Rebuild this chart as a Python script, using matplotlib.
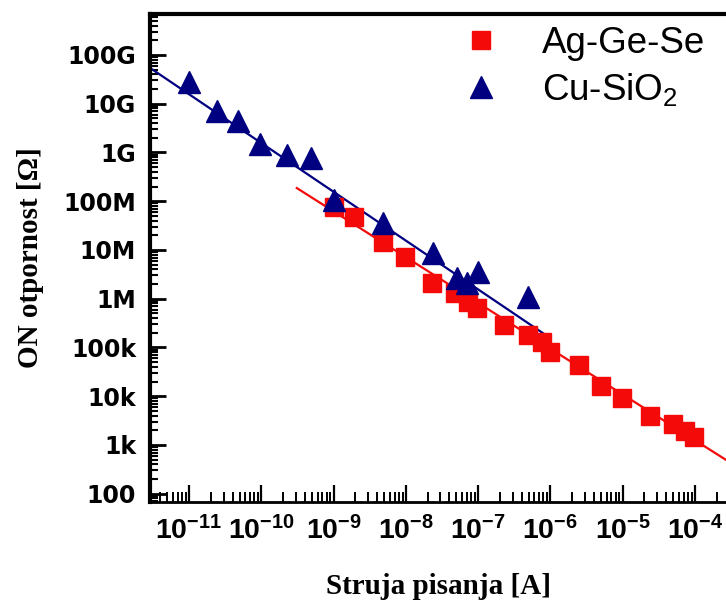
import matplotlib
matplotlib.use('Agg')
import matplotlib.pyplot as plt
import numpy as np
from matplotlib.ticker import LogLocator, NullFormatter, FixedLocator

plt.rcParams['mathtext.fontset'] = 'custom'
plt.rcParams['mathtext.rm'] = 'Liberation Sans'
plt.rcParams['mathtext.bf'] = 'Liberation Sans:bold'
plt.rcParams['mathtext.default'] = 'regular'

# Cu-SiO2 (triangles)
cu_current = [1e-11, 2.45e-11, 4.8e-11, 9.5e-11, 2.3e-10, 4.9e-10, 1e-9,
              4.9e-9, 2.4e-8, 5.1e-8, 7.1e-8, 1e-7, 4.9e-7]
cu_resistance = [2.8e10, 7.1e9, 4.5e9, 1.5e9, 8.9e8, 7.8e8, 1.07e8,
                 3.5e7, 8.7e6, 2.7e6, 2.1e6, 3.5e6, 1.1e6]

# Ag-Ge-Se (squares)
ag_current = [1e-9, 1.9e-9, 4.8e-9, 9.8e-9, 2.3e-8, 4.8e-8, 7.2e-8, 9.5e-8,
              2.3e-7, 4.9e-7, 7.6e-7, 9.8e-7, 2.5e-6, 5e-6, 9.8e-6, 2.4e-5,
              4.9e-5, 7.4e-5, 9.8e-5]
ag_resistance = [7.6e7, 4.8e7, 1.45e7, 7.2e6, 2.1e6, 1.3e6, 8.5e5, 6.5e5,
                 2.9e5, 1.8e5, 1.3e5, 8.1e4, 4.4e4, 1.6e4, 9.1e3, 3.9e3,
                 2.7e3, 1.95e3, 1.45e3]

# fit lines (end points)
cu_fit_x = [2.9e-12, 1e-6]
cu_fit_y = [5.4e10, 1.55e5]
ag_fit_x = [3.1e-10, 3.2e-4]
ag_fit_y = [1.86e8, 4.2e2]

x_ticks = [1e-11, 1e-10, 1e-9, 1e-8, 1e-7, 1e-6, 1e-5, 1e-4]
x_tick_labels = [r'$\mathbf{10^{-11}}$', r'$\mathbf{10^{-10}}$', r'$\mathbf{10^{-9}}$',
                 r'$\mathbf{10^{-8}}$', r'$\mathbf{10^{-7}}$', r'$\mathbf{10^{-6}}$',
                 r'$\mathbf{10^{-5}}$', r'$\mathbf{10^{-4}}$']
y_ticks = [1e2, 1e3, 1e4, 1e5, 1e6, 1e7, 1e8, 1e9, 1e10, 1e11]
y_tick_labels = ['100', '1k', '10k', '100k', '1M', '10M', '100M', '1G', '10G', '100G']

red = '#f50a0a'
navy = '#000080'

fig = plt.figure(figsize=(7.26, 6.03), dpi=100)
ax = fig.add_axes([150 / 726, 101 / 603, 576 / 726, 488 / 603])

ax.plot(ag_fit_x, ag_fit_y, color=red, lw=1.6, zorder=2)
ax.plot(cu_fit_x, cu_fit_y, color=navy, lw=1.6, zorder=2)
ax.plot(ag_current, ag_resistance, 's', color=red, ms=13.5, ls='none',
        label='Ag-Ge-Se', zorder=3)
ax.plot(cu_current, cu_resistance, '^', color=navy, ms=16, ls='none',
        label='Cu-SiO$_2$', zorder=4)

ax.set_xscale('log')
ax.set_yscale('log')
ax.set_xlim(10 ** -11.54, 10 ** -3.57)
ax.set_ylim(10 ** 1.83, 10 ** 11.84)

ax.xaxis.set_major_locator(FixedLocator(x_ticks))
ax.set_xticklabels(x_tick_labels)
ax.yaxis.set_major_locator(FixedLocator(y_ticks))
ax.set_yticklabels(y_tick_labels)
ax.xaxis.set_minor_locator(LogLocator(base=10, subs=np.arange(2, 10), numticks=100))
ax.yaxis.set_minor_locator(LogLocator(base=10, subs=np.arange(2, 10), numticks=100))
ax.xaxis.set_minor_formatter(NullFormatter())
ax.yaxis.set_minor_formatter(NullFormatter())

ax.tick_params(axis='x', which='major', direction='in', length=12.5, width=1.6,
               pad=10, labelsize=20.5)
ax.tick_params(axis='x', which='minor', direction='in', length=7, width=1.4)
ax.tick_params(axis='y', which='major', direction='in', length=11.5, width=2,
               pad=10)
ax.tick_params(axis='y', which='minor', direction='in', length=6, width=1.5)
for lab in ax.get_yticklabels():
    lab.set_fontfamily('DejaVu Sans')
    lab.set_fontweight('bold')
    lab.set_fontsize(17)

ax.spines['right'].set_visible(False)
ax.spines['top'].set_linewidth(3)
ax.spines['left'].set_linewidth(3)
ax.spines['bottom'].set_linewidth(2)

ax.set_xlabel('Struja pisanja [A]', family='Liberation Serif', fontweight='bold',
              fontsize=21, labelpad=20)
ax.set_ylabel('ON otpornost [\u03a9]', family='Liberation Serif', fontweight='bold',
              fontsize=21, labelpad=14)

ax.legend(loc='upper left', bbox_to_anchor=(463 / 726, 1 - 26 / 603),
          bbox_transform=fig.transFigure, frameon=False,
          prop={'family': 'Liberation Sans', 'size': 26.5},
          handlelength=1.0, handletextpad=1.15, borderpad=0, borderaxespad=0,
          labelspacing=0.28)

fig.savefig('out.png', dpi=100)
